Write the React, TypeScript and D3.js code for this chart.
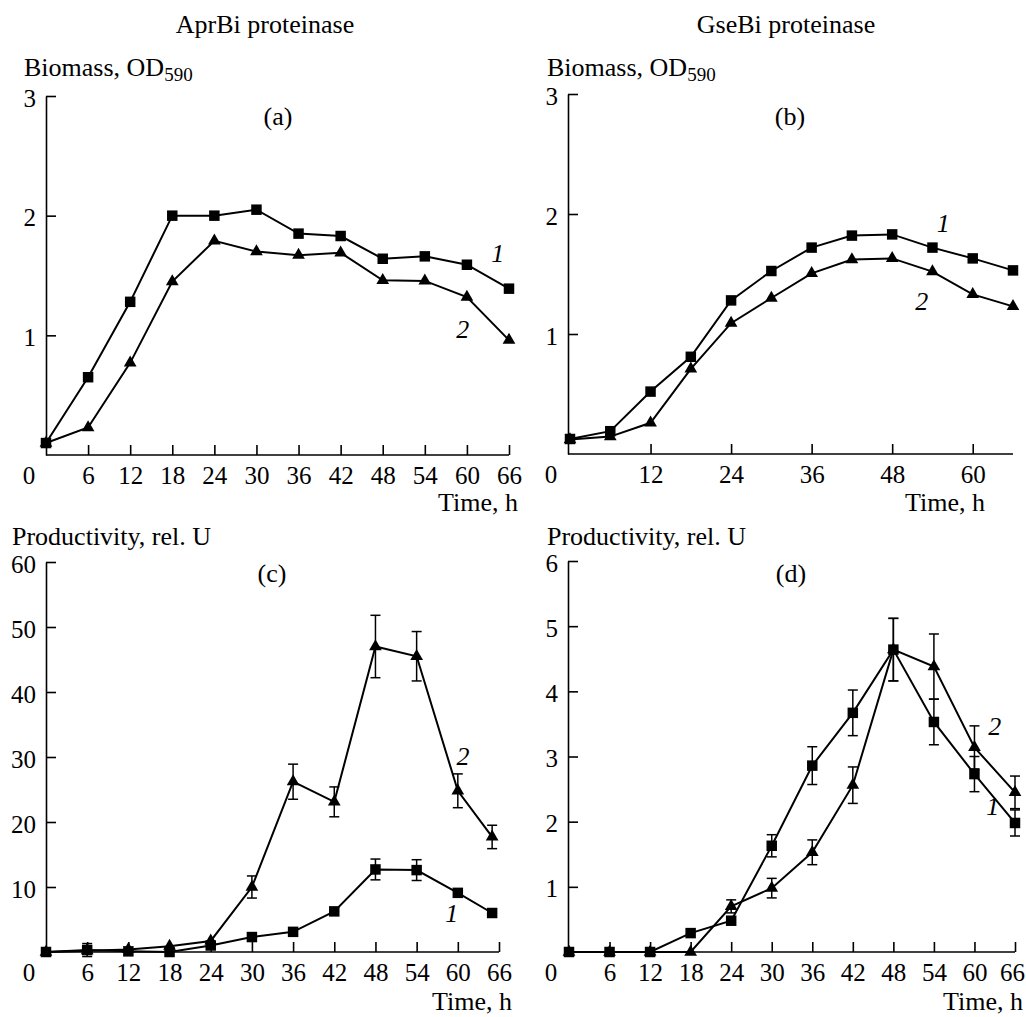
import React, { useEffect, useRef } from "react";
import * as d3 from "d3";

const FONT = '"Liberation Serif", "Times New Roman", Times, serif';

// sampling times, h
const hours = [0, 6, 12, 18, 24, 30, 36, 42, 48, 54, 60, 66];
const hoursC = [0, 6, 12, 18, 24, 30, 36, 42, 48, 54, 60, 65];

// (a) AprBi biomass, OD590
const biomassA1 = [0.1, 0.65, 1.28, 2.0, 2.0, 2.05, 1.85, 1.83, 1.64, 1.66, 1.59, 1.39];
const biomassA2 = [0.1, 0.23, 0.77, 1.45, 1.79, 1.7, 1.67, 1.69, 1.46, 1.455, 1.32, 0.96];

// (b) GseBi biomass, OD590
const biomassB1 = [0.125, 0.19, 0.52, 0.81, 1.28, 1.525, 1.72, 1.82, 1.83, 1.72, 1.63, 1.53];
const biomassB2 = [0.12, 0.145, 0.26, 0.71, 1.09, 1.3, 1.505, 1.62, 1.63, 1.52, 1.33, 1.23];

// (c) AprBi productivity, rel. U
const prodC1 = [0, 0.3, 0.1, 0, 1.0, 2.3, 3.1, 6.25, 12.7, 12.6, 9.1, 6.0];
const prodC1Err = [0, 1.0, 0, 0, 0, 0, 0, 0, 1.6, 1.6, 0, 0];
const prodC2 = [0, 0.2, 0.4, 0.9, 1.7, 10.0, 26.2, 23.1, 47.0, 45.5, 24.8, 17.7];
const prodC2Err = [0, 0, 0, 0, 0, 1.7, 2.7, 2.3, 4.8, 3.8, 2.6, 1.8];

// (d) GseBi productivity, rel. U
const prodD1 = [0, 0, 0, 0.29, 0.48, 1.63, 2.86, 3.67, 4.64, 3.53, 2.73, 1.98];
const prodD1Err = [0, 0, 0, 0, 0, 0.17, 0.29, 0.35, 0.48, 0.35, 0.27, 0.2];
const prodD2 = [0, 0, 0, 0, 0.7, 0.98, 1.53, 2.56, 4.64, 4.38, 3.14, 2.45];
const prodD2Err = [0, 0, 0, 0, 0.1, 0.15, 0.19, 0.28, 0.48, 0.5, 0.33, 0.25];

const panels = [
  {
    letter: "(a)", letterX: 278, letterY: 125,
    yLabel: "Biomass, OD", sub: "590", labelX: 24, labelY: 76,
    axisX: 46, xRange: [46, 509], yRange: [455, 96], yMax: 3,
    yTicks: [1, 2, 3], xTicks: [6, 12, 18, 24, 30, 36, 42, 48, 54, 60, 66],
    timeX: 518, timeY: 511, lastShift: 0,
    series: [
      { t: hours, v: biomassA1, err: null, shape: "square" },
      { t: hours, v: biomassA2, err: null, shape: "triangle" },
    ],
    notes: [{ text: "1", t: 64.4, v: 1.61 }, { text: "2", t: 59.4, v: 0.98 }],
  },
  {
    letter: "(b)", letterX: 790, letterY: 125,
    yLabel: "Biomass, OD", sub: "590", labelX: 547, labelY: 76,
    axisX: 568, xRange: [570, 1013], yRange: [454, 94], yMax: 3,
    yTicks: [1, 2, 3], xTicks: [12, 24, 36, 48, 60],
    timeX: 985, timeY: 511, lastShift: 0,
    series: [
      { t: hours, v: biomassB1, err: null, shape: "square" },
      { t: hours, v: biomassB2, err: null, shape: "triangle" },
    ],
    notes: [{ text: "1", t: 55.6, v: 1.85 }, { text: "2", t: 52.4, v: 1.2 }],
  },
  {
    letter: "(c)", letterX: 272, letterY: 582,
    yLabel: "Productivity, rel. U", sub: "", labelX: 12, labelY: 545,
    axisX: 46, xRange: [46, 499], yRange: [952, 562], yMax: 60,
    yTicks: [10, 20, 30, 40, 50, 60], xTicks: [6, 12, 18, 24, 30, 36, 42, 48, 54, 60, 66],
    timeX: 512, timeY: 1010, lastShift: 0,
    series: [
      { t: hoursC, v: prodC1, err: prodC1Err, shape: "square" },
      { t: hoursC, v: prodC2, err: prodC2Err, shape: "triangle" },
    ],
    notes: [{ text: "2", t: 60.75, v: 28.8 }, { text: "1", t: 59.1, v: 4.6 }],
  },
  {
    letter: "(d)", letterX: 791, letterY: 582,
    yLabel: "Productivity, rel. U", sub: "", labelX: 547, labelY: 545,
    axisX: 568, xRange: [569, 1015], yRange: [952, 561], yMax: 6,
    yTicks: [1, 2, 3, 4, 5, 6], xTicks: [6, 12, 18, 24, 30, 36, 42, 48, 54, 60, 66],
    timeX: 1023, timeY: 1010, lastShift: -3,
    series: [
      { t: hours, v: prodD1, err: prodD1Err, shape: "square" },
      { t: hours, v: prodD2, err: prodD2Err, shape: "triangle" },
    ],
    notes: [{ text: "2", t: 63.0, v: 3.33 }, { text: "1", t: 62.7, v: 2.1 }],
  },
];

export default function App() {
  const ref = useRef(null);

  useEffect(() => {
    const svg = d3.select(ref.current);
    svg.selectAll("*").remove();

    svg.append("text").attr("x", 265).attr("y", 33).attr("text-anchor", "middle")
      .attr("font-size", 26).text("AprBi proteinase");
    svg.append("text").attr("x", 786).attr("y", 33).attr("text-anchor", "middle")
      .attr("font-size", 26).text("GseBi proteinase");

    panels.forEach((p) => {
      const x = d3.scaleLinear().domain([0, 66]).range(p.xRange);
      const y = d3.scaleLinear().domain([0, p.yMax]).range(p.yRange);
      const base = p.yRange[0];
      const g = svg.append("g");

      // y label
      const yl = g.append("text").attr("x", p.labelX).attr("y", p.labelY).attr("font-size", 26);
      yl.append("tspan").text(p.yLabel);
      if (p.sub) yl.append("tspan").attr("font-size", 19).attr("dy", 5).text(p.sub);

      g.append("text").attr("x", p.letterX).attr("y", p.letterY).attr("text-anchor", "middle")
        .attr("font-size", 26).text(p.letter);

      // x axis
      const xa = g.append("g")
        .attr("transform", `translate(0,${base})`)
        .call(d3.axisBottom(x).tickValues(p.xTicks).tickFormat(d3.format("d"))
          .tickSize(-10).tickSizeOuter(0).tickPadding(0));
      xa.select(".domain").attr("d", `M${p.axisX},0H${p.xRange[1]}`);
      xa.selectAll("line, path").attr("stroke", "#000").attr("stroke-width", 1.6);
      xa.selectAll("text").attr("y", 29).attr("dy", null)
        .attr("font-size", 25).attr("font-family", FONT).attr("fill", "#000")
        .attr("dx", (d) => (d === 66 ? p.lastShift : 0));
      g.append("text").attr("x", p.axisX - 17).attr("y", base + 29).attr("text-anchor", "middle")
        .attr("font-size", 25).text("0");
      g.append("text").attr("x", p.timeX).attr("y", p.timeY).attr("text-anchor", "end")
        .attr("font-size", 26).text("Time, h");

      // y axis
      const ya = g.append("g")
        .attr("transform", `translate(${p.axisX},0)`)
        .call(d3.axisLeft(y).tickValues(p.yTicks).tickFormat(d3.format("d"))
          .tickSize(-10).tickSizeOuter(0).tickPadding(10));
      ya.selectAll("line, path").attr("stroke", "#000").attr("stroke-width", 1.6);
      ya.selectAll("text").attr("dy", "0.4em")
        .attr("font-size", 25).attr("font-family", FONT).attr("fill", "#000");

      const line = d3.line().x((d) => x(d[0])).y((d) => y(d[1]));

      p.series.forEach((s) => {
        const pts = s.t.map((t, i) => [t, s.v[i], s.err ? s.err[i] : 0]);

        g.append("path").datum(pts).attr("d", line)
          .attr("fill", "none").attr("stroke", "#000").attr("stroke-width", 2);

        const eb = g.selectAll(null).data(pts.filter((d) => d[2] > 0)).join("g");
        eb.append("line")
          .attr("x1", (d) => x(d[0])).attr("x2", (d) => x(d[0]))
          .attr("y1", (d) => y(d[1] - d[2])).attr("y2", (d) => y(d[1] + d[2]));
        eb.append("line")
          .attr("x1", (d) => x(d[0]) - 5).attr("x2", (d) => x(d[0]) + 5)
          .attr("y1", (d) => y(d[1] - d[2])).attr("y2", (d) => y(d[1] - d[2]));
        eb.append("line")
          .attr("x1", (d) => x(d[0]) - 5).attr("x2", (d) => x(d[0]) + 5)
          .attr("y1", (d) => y(d[1] + d[2])).attr("y2", (d) => y(d[1] + d[2]));
        eb.selectAll("line").attr("stroke", "#000").attr("stroke-width", 1.5);

        const sym = s.shape === "square"
          ? d3.symbol(d3.symbolSquare, 110)
          : d3.symbol(d3.symbolTriangle, 70);
        g.selectAll(null).data(pts).join("path")
          .attr("d", sym)
          .attr("transform", (d) => `translate(${x(d[0])},${y(d[1])})`)
          .attr("fill", "#000");
      });

      p.notes.forEach((n) => {
        g.append("text").attr("x", x(n.t)).attr("y", y(n.v)).attr("text-anchor", "middle")
          .attr("font-size", 26).attr("font-style", "italic").text(n.text);
      });
    });
  }, []);

  return (
    <svg
      ref={ref}
      width={1026}
      height={1017}
      style={{ position: "absolute", left: 0, top: 0, background: "#fff" }}
      fontFamily={FONT}
      fill="#000"
    />
  );
}
